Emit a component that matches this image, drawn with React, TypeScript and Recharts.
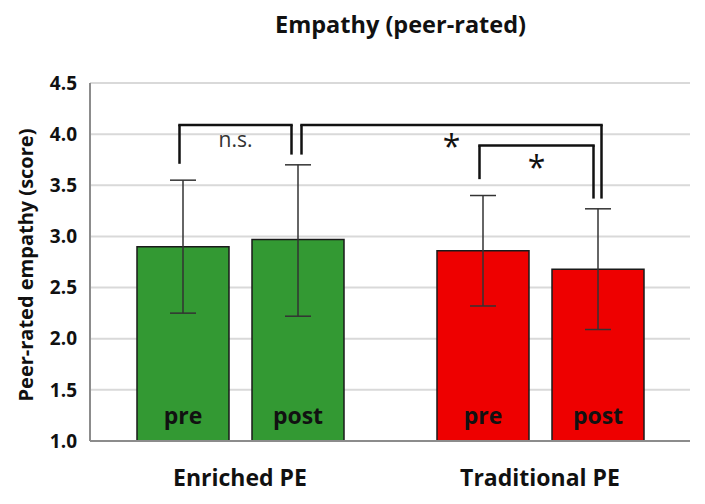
import React from 'react';
import {
  BarChart,
  Bar,
  XAxis,
  YAxis,
  CartesianGrid,
  ErrorBar,
  Cell,
  LabelList,
  ReferenceLine,
} from 'recharts';

// ---------- data ----------
const CATEGORIES = ['Enriched PE', 'Traditional PE'];
const SERIES = ['pre', 'post'];
const PRE_MEAN = [2.9, 2.86];
const POST_MEAN = [2.97, 2.68];
const PRE_LOW = [2.25, 2.32];
const PRE_HIGH = [3.55, 3.4];
const POST_LOW = [2.22, 2.09];
const POST_HIGH = [3.7, 3.27];
const Y_TICKS = [1.0, 1.5, 2.0, 2.5, 3.0, 3.5, 4.0, 4.5];
const GROUP_COLORS = ['#339933', '#ee0000'];

// significance brackets: bar index 0..3 (group*2 + series)
const BRACKET_FROM = [0, 1, 2];
const BRACKET_TO = [1, 3, 3];
const BRACKET_TOP = [4.09, 4.09, 3.89];
const BRACKET_FROM_END = [3.71, 3.8, 3.56];
const BRACKET_TO_END = [3.8, 3.37, 3.37];
const BRACKET_LABELS = ['n.s.', '*', '*'];

// ---------- layout ----------
const W = 705;
const H = 504;
const MARGIN = { top: 83, right: 15, bottom: 0, left: 0 };
const Y_AXIS_W = 90;
const X_AXIS_H = 63;
const BAR_SIZE = 92;
const BAR_GAP = 23;
const FROM_NUDGE = [-3, 4, -3];
const TO_NUDGE = [-6, 4, -4];
const FONT = '"Open Sans", Lato, sans-serif';

const data = CATEGORIES.map((group, i) => ({
  group,
  pre: PRE_MEAN[i],
  post: POST_MEAN[i],
  preErr: [PRE_MEAN[i] - PRE_LOW[i], PRE_HIGH[i] - PRE_MEAN[i]],
  postErr: [POST_MEAN[i] - POST_LOW[i], POST_HIGH[i] - POST_MEAN[i]],
}));

// pixel offset of a bar centre from its category centre
const barOffset = (k: number) => ((k % 2 === 0 ? -1 : 1) * (BAR_SIZE + BAR_GAP)) / 2;
const catOf = (k: number) => CATEGORIES[Math.floor(k / 2)];

const makeLabel = (name: string) => (props: any) => {
  const { x, y, width, height } = props;
  return (
    <text
      x={x + width / 2}
      y={y + height - 26}
      textAnchor="middle"
      dominantBaseline="central"
      fontFamily={FONT}
      fontWeight={700}
      fontSize={23}
      fill="#111"
    >
      {name}
    </text>
  );
};

const YLabel = (props: any) => {
  const vb = props.viewBox || {};
  const cx = 25;
  const cy = vb.y + vb.height / 2 + 3;
  return (
    <text
      x={cx}
      y={cy}
      transform={`rotate(-90, ${cx}, ${cy})`}
      textAnchor="middle"
      dominantBaseline="central"
      fontFamily={FONT}
      fontWeight={700}
      fontSize={20}
      fill="#111"
    >
      Peer-rated empathy (score)
    </text>
  );
};

const legShape = (dx: number) => (p: any) => (
  <line x1={p.x1 + dx} y1={p.y1} x2={p.x2 + dx} y2={p.y2} stroke="#111" strokeWidth={2.5} />
);

const topShape = (dx1: number, dx2: number, label: string) => (p: any) => {
  const xa = p.x1 + dx1;
  const xb = p.x2 + dx2;
  const mid = (xa + xb) / 2;
  const star = label === '*';
  return (
    <g>
      <line x1={xa - 1.25} y1={p.y1} x2={xb + 1.25} y2={p.y2} stroke="#111" strokeWidth={2.5} />
      <text
        x={mid}
        y={p.y1 + (star ? 21 : 14)}
        textAnchor="middle"
        dominantBaseline="central"
        fontFamily={FONT}
        fontSize={star ? 32 : 21}
        fill={star ? '#111' : '#333'}
      >
        {label}
      </text>
    </g>
  );
};

export default function App() {
  const brackets = BRACKET_FROM.map((f, i) => {
    const t = BRACKET_TO[i];
    return {
      i,
      c1: catOf(f),
      c2: catOf(t),
      dx1: barOffset(f) + FROM_NUDGE[i],
      dx2: barOffset(t) + TO_NUDGE[i],
      top: BRACKET_TOP[i],
      e1: BRACKET_FROM_END[i],
      e2: BRACKET_TO_END[i],
      label: BRACKET_LABELS[i],
    };
  });

  return (
    <div style={{ position: 'absolute', left: 0, top: 0, width: W, height: H, background: '#fff' }}>
      <div
        style={{
          position: 'absolute',
          left: 0,
          width: 801,
          top: 8,
          textAlign: 'center',
          fontFamily: FONT,
          fontWeight: 700,
          fontSize: 23.5,
          color: '#111',
          lineHeight: '32px',
        }}
      >
        Empathy (peer-rated)
      </div>
      <BarChart width={W} height={H} data={data} margin={MARGIN} barSize={BAR_SIZE} barGap={BAR_GAP}>
        <CartesianGrid horizontal vertical={false} stroke="#d9d9d9" strokeWidth={2} />
        <XAxis
          dataKey="group"
          height={X_AXIS_H}
          tickSize={0}
          tickMargin={29}
          axisLine={{ stroke: '#8c8c8c', strokeWidth: 2 }}
          tickLine={false}
          tick={{ fontFamily: FONT, fontWeight: 700, fontSize: 23, fill: '#111' }}
        />
        <YAxis
          width={Y_AXIS_W}
          domain={[1, 4.5]}
          ticks={Y_TICKS}
          interval={0}
          tickFormatter={(v: number) => v.toFixed(1)}
          tickSize={0}
          tickMargin={13}
          tickLine={false}
          axisLine={{ stroke: '#8c8c8c', strokeWidth: 2 }}
          tick={{ fontFamily: FONT, fontWeight: 700, fontSize: 19, fill: '#111' }}
          label={<YLabel />}
        />
        {SERIES.map((s) => (
          <Bar key={s} dataKey={s} isAnimationActive={false} stroke="#1a1a1a" strokeWidth={1.5}>
            {data.map((d, i) => (
              <Cell key={d.group} fill={GROUP_COLORS[i]} />
            ))}
            <ErrorBar dataKey={`${s}Err`} width={13} stroke="#333" strokeWidth={1.5} direction="y" />
            <LabelList dataKey={s} content={makeLabel(s)} />
          </Bar>
        ))}
        {brackets.map((b) => (
          <ReferenceLine
            key={`l${b.i}`}
            segment={[{ x: b.c1, y: b.e1 }, { x: b.c1, y: b.top }]}
            shape={legShape(b.dx1)}
          />
        ))}
        {brackets.map((b) => (
          <ReferenceLine
            key={`r${b.i}`}
            segment={[{ x: b.c2, y: b.top }, { x: b.c2, y: b.e2 }]}
            shape={legShape(b.dx2)}
          />
        ))}
        {brackets.map((b) => (
          <ReferenceLine
            key={`h${b.i}`}
            segment={[{ x: b.c1, y: b.top }, { x: b.c2, y: b.top }]}
            shape={topShape(b.dx1, b.dx2, b.label)}
          />
        ))}
      </BarChart>
    </div>
  );
}
